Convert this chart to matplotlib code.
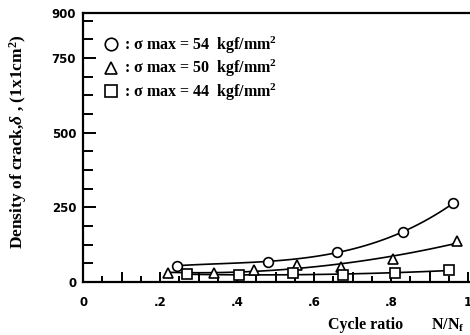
import numpy as np
import matplotlib.pyplot as plt
from matplotlib.ticker import MultipleLocator, FixedLocator
from matplotlib.lines import Line2D

# cycle ratio N/Nf and crack density for the three stress levels
x54 = [0.244, 0.48, 0.66, 0.83, 0.96]
y54 = [55, 68, 101, 166, 263]
x50 = [0.22, 0.34, 0.445, 0.555, 0.67, 0.805, 0.97]
y50 = [29, 32, 39, 58, 52, 78, 136]
x44 = [0.27, 0.405, 0.545, 0.675, 0.81, 0.95]
y44 = [26, 23, 29, 23, 32, 39]

labels = [': σ max = 54  kgf/mm$^2$',
          ': σ max = 50  kgf/mm$^2$',
          ': σ max = 44  kgf/mm$^2$']

plt.rcParams['mathtext.fontset'] = 'custom'
plt.rcParams['mathtext.rm'] = 'Liberation Serif:bold'
plt.rcParams['mathtext.it'] = 'Liberation Serif:italic:bold'
serif = {'family': 'Liberation Serif', 'weight': 'bold'}

fig = plt.figure(figsize=(4.7, 3.35), dpi=100)
ax = fig.add_axes([0.177, 0.158, 0.823, 0.803])

series = [(x54, y54, 'o', 3), (x50, y50, '^', 2), (x44, y44, 's', 2)]
for xs, ys, m, deg in series:
    c = np.polyfit(xs, ys, deg)
    xx = np.linspace(min(xs), max(xs), 100)
    ax.plot(xx, np.polyval(c, xx), color='black', lw=1.2, zorder=2)
    ax.plot(xs, ys, m, mfc='white', mec='black', mew=1.2, ms=7, ls='none', zorder=3)

ax.set_xlim(0, 1.005)
ax.set_ylim(0, 900)
ax.spines['right'].set_visible(False)
for s in ['left', 'bottom', 'top']:
    ax.spines[s].set_linewidth(1.6)

ax.xaxis.set_major_locator(MultipleLocator(0.1))
ax.xaxis.set_minor_locator(MultipleLocator(0.05))
ax.set_xticklabels([])
ax.yaxis.set_major_locator(FixedLocator([0, 250, 500, 750, 900]))
ax.yaxis.set_minor_locator(MultipleLocator(62.5))
ax.tick_params(which='both', direction='in', width=1.4, top=False, right=False)
ax.tick_params(axis='x', which='major', length=7)
ax.tick_params(axis='x', which='minor', length=4)
ax.tick_params(axis='y', which='major', length=9, pad=5)
ax.tick_params(axis='y', which='minor', length=7)
ax.set_yticklabels(['0', '250', '500', '750', '900'], fontsize=8.5, fontweight='bold')

for v, t in zip([0, 0.2, 0.4, 0.6, 0.8, 0.998], ['0', '.2', '.4', '.6', '.8', '1']):
    ax.text(v, -48, t, ha='center', va='top', fontsize=8.5, fontweight='bold',
            transform=ax.transData, clip_on=False)

handles = [Line2D([], [], marker=m, ls='none', mfc='white', mec='black', mew=1.2, ms=9)
           for m in ['o', '^', 's']]
ax.legend(handles, labels, loc='upper left', bbox_to_anchor=(0.035, 0.945), frameon=False,
          prop={'family': 'Liberation Serif', 'weight': 'bold', 'size': 11.5},
          handlelength=1.0, handletextpad=0.3, labelspacing=0.15, borderaxespad=0)

fig.text(0.038, 0.578, r'Density of crack,$\delta$ , (1x1cm$^2$)', rotation=90,
         ha='center', va='center', fontsize=12.5, fontdict=serif)
fig.text(0.698, 0.03, 'Cycle ratio', ha='left', va='center', fontsize=11.5, fontdict=serif)
fig.text(0.918, 0.03, r'N/N$_\mathrm{f}$', ha='left', va='center', fontsize=11.5, fontdict=serif)

fig.savefig('out.png', dpi=100)
